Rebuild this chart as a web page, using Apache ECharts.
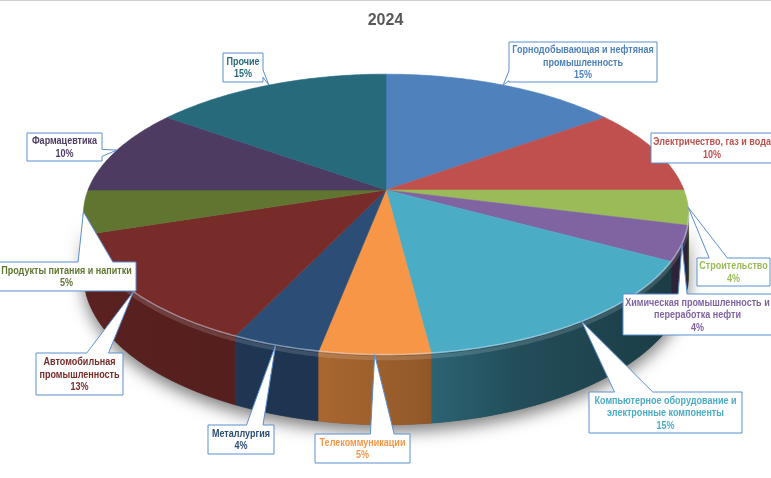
<!DOCTYPE html>
<html>
<head>
<meta charset="utf-8">
<script src="https://cdn.jsdelivr.net/npm/echarts@6/dist/echarts.min.js"></script>
<style>
  html, body { margin: 0; padding: 0; background: #fff; }
  #chart { width: 771px; height: 478px; }
</style>
</head>
<body>
<div id="chart"></div>
<script>
// данные диаграммы
const chartTitle = '2024';
const categories = [
  'Горнодобывающая и нефтяная\nпромышленность',
  'Электричество, газ и вода',
  'Строительство',
  'Химическая промышленность и\nпереработка нефти',
  'Компьютерное оборудование и\nэлектронные компоненты',
  'Телекоммуникации',
  'Металлургия',
  'Автомобильная\nпромышленность',
  'Продукты питания и напитки',
  'Фармацевтика',
  'Прочие'
];
const shares = [15, 10, 4, 4, 15, 5, 4, 13, 5, 10, 15];
const sliceColors = [
  '#4F81BD', '#C0504D', '#9BBB59', '#8064A2', '#4BACC6', '#F79646',
  '#2C4D75', '#772C2A', '#5F7530', '#4D3B62', '#276A7C'
];

// раскладка подписей: [x, y, w, h] и (необязательно) сторона/доли основания выноски
const labelBoxes = [
  [509, 42, 148, 40],
  [651, 133, 122, 30],
  [697, 258, 73, 28],
  [623, 294, 149, 41],
  [589, 392, 153, 41],
  [315, 434, 95, 29],
  [208, 425, 66, 29],
  [36, 353, 87, 42],
  [-3, 262, 139, 29],
  [27, 133, 75, 28],
  [223, 53, 40, 29]
];
const wedgeOverride = { 0: ['l', 0.72, 0.97], 1: null, 3: ['t', 0.37, 0.43] };

const total = shares.reduce((a, b) => a + b, 0);
const startAngles = [];
shares.reduce((acc, v, i) => { startAngles[i] = acc / total * 360; return acc + v; }, 0);

// геометрия "3D" круга
const geo = { cx: 386, cy: 190, R: 298, Ry: 136, p: 0.174, H: 58 };
const wallFrom = 90 + Math.asin(geo.p) * 180 / Math.PI;
const wallTo = 360 - wallFrom;

function project(deg, drop) {
  const t = deg * Math.PI / 180;
  const u = Math.sin(t), v = -Math.cos(t);
  const s = 1 / (1 - geo.p * v);
  return [geo.cx + geo.R * u * s, geo.cy + geo.Ry * v * s + (drop || 0) * s];
}

function arc(a0, a1, drop) {
  const pts = [];
  const n = Math.max(2, Math.ceil((a1 - a0) / 0.75));
  for (let k = 0; k <= n; k++) pts.push(project(a0 + (a1 - a0) * k / n, drop));
  return pts;
}

function shade(hex, f) {
  const n = parseInt(hex.slice(1), 16);
  const r = Math.round(((n >> 16) & 255) * f);
  const g = Math.round(((n >> 8) & 255) * f);
  const b = Math.round((n & 255) * f);
  return `rgb(${r},${g},${b})`;
}

function wallFill(color) {
  return new echarts.graphic.LinearGradient(geo.cx - geo.R * 1.02, 0, geo.cx + geo.R * 1.02, 0, [
    { offset: 0, color: shade(color, 0.76) },
    { offset: 0.4, color: shade(color, 0.68) },
    { offset: 0.55, color: shade(color, 0.6) },
    { offset: 0.72, color: shade(color, 0.45) },
    { offset: 1, color: shade(color, 0.34) }
  ], true);
}

function renderWall(params, api) {
  const i = params.dataIndex;
  const a0 = startAngles[i];
  const a1 = a0 + api.value(0) / total * 360;
  const children = [];
  if (i === 0) {
    const top = arc(wallFrom, wallTo, 0);
    const bottom = arc(wallFrom, wallTo, geo.H).reverse();
    children.push({
      type: 'polygon', z2: -10,
      shape: { points: top.concat(bottom) },
      style: { fill: '#555', shadowBlur: 16, shadowOffsetY: 7, shadowColor: 'rgba(0,0,0,0.5)' }
    });
  }
  const w0 = Math.max(a0, wallFrom), w1 = Math.min(a1, wallTo);
  if (w1 > w0) {
    const top = arc(w0, w1, 0);
    const bottom = arc(w0, w1, geo.H).reverse();
    const mid = (w0 + w1) / 2;
    children.push({
      type: 'polygon', z2: Math.round(200 - Math.abs(mid - 180)),
      shape: { points: top.concat(bottom) },
      style: { fill: wallFill(sliceColors[i]), stroke: wallFill(sliceColors[i]), lineWidth: 0.5 }
    });
    // светлая кромка верхнего края
    children.push({
      type: 'polyline', z2: 300,
      shape: { points: arc(w0, w1, 3) },
      style: { stroke: 'rgba(255,255,255,0.14)', lineWidth: 4, fill: null }
    });
  }
  return { type: 'group', children };
}

function renderTop(params, api) {
  const i = params.dataIndex;
  const a0 = startAngles[i];
  const a1 = a0 + api.value(0) / total * 360;
  const pts = [[geo.cx, geo.cy]].concat(arc(a0, a1, 0));
  const children = [{
    type: 'polygon',
    shape: { points: pts },
    style: { fill: sliceColors[i], stroke: sliceColors[i], lineWidth: 0.6 }
  }];
  const w0 = Math.max(a0, wallFrom), w1 = Math.min(a1, wallTo);
  if (w1 > w0) {
    children.push({
      type: 'polyline', z2: 10,
      shape: { points: arc(w0, w1, 0) },
      style: { stroke: 'rgba(225,235,255,0.45)', lineWidth: 1.6, fill: null }
    });
  }
  return { type: 'group', children };
}

function calloutPoints(box, tip, opt) {
  const [x, y, w, h] = box;
  let side, f1, f2;
  if (opt) {
    [side, f1, f2] = opt;
  } else {
    const dx = tip[0] - (x + w / 2), dy = tip[1] - (y + h / 2);
    if (Math.abs(dy) / h > Math.abs(dx) / w) {
      side = dy < 0 ? 't' : 'b';
      [f1, f2] = dx > 0 ? [7 / 12, 10 / 12] : [2 / 12, 5 / 12];
    } else {
      side = dx < 0 ? 'l' : 'r';
      [f1, f2] = dy > 0 ? [7 / 12, 10 / 12] : [2 / 12, 5 / 12];
    }
  }
  const TL = [x, y], TR = [x + w, y], BR = [x + w, y + h], BL = [x, y + h];
  if (side === 't') return [TL, [x + f1 * w, y], tip, [x + f2 * w, y], TR, BR, BL];
  if (side === 'r') return [TL, TR, [x + w, y + f1 * h], tip, [x + w, y + f2 * h], BR, BL];
  if (side === 'b') return [TL, TR, BR, [x + f2 * w, y + h], tip, [x + f1 * w, y + h], BL];
  return [TL, TR, BR, BL, [x, y + f2 * h], tip, [x, y + f1 * h]];
}

function renderLabel(params, api) {
  const i = params.dataIndex;
  const a0 = startAngles[i];
  const a1 = a0 + api.value(0) / total * 360;
  const tip = project((a0 + a1) / 2, 0);
  const box = labelBoxes[i];
  const hasWedge = wedgeOverride[i] !== null;
  const shapeEl = hasWedge
    ? { type: 'polygon', shape: { points: calloutPoints(box, tip, wedgeOverride[i]) } }
    : { type: 'rect', shape: { x: box[0], y: box[1], width: box[2], height: box[3] } };
  shapeEl.style = { fill: '#fff', stroke: '#5B8FD0', lineWidth: 1 };
  return {
    type: 'group',
    children: [
      shapeEl,
      {
        type: 'text',
        x: box[0] + box[2] / 2,
        y: box[1] + box[3] / 2 + 0.5,
        scaleX: 0.82,
        style: {
          text: categories[i] + '\n' + api.value(0) + '%',
          x: 0,
          y: 0,
          align: 'center',
          verticalAlign: 'middle',
          fill: sliceColors[i],
          font: 'bold 11px "Liberation Sans", Arial, sans-serif',
          lineHeight: 12.5
        }
      }
    ]
  };
}

const chart = echarts.init(document.getElementById('chart'));
chart.setOption({
  backgroundColor: '#fff',
  animation: false,
  title: {
    text: chartTitle,
    left: 'center',
    top: 8,
    textStyle: { fontFamily: '"Liberation Sans", Arial, sans-serif', fontSize: 16, fontWeight: 'bold', color: '#595959' }
  },
  graphic: [{
    type: 'line', shape: { x1: 0, y1: 0.5, x2: 771, y2: 0.5 },
    style: { stroke: '#d0d0d0', lineWidth: 1 }, silent: true
  }],
  series: [
    { type: 'custom', coordinateSystem: 'none', z: 1, renderItem: renderWall, data: shares },
    { type: 'custom', coordinateSystem: 'none', z: 2, renderItem: renderTop, data: shares },
    { type: 'custom', coordinateSystem: 'none', z: 3, renderItem: renderLabel, data: shares }
  ]
});
window.addEventListener('resize', () => chart.resize());
</script>
</body>
</html>
